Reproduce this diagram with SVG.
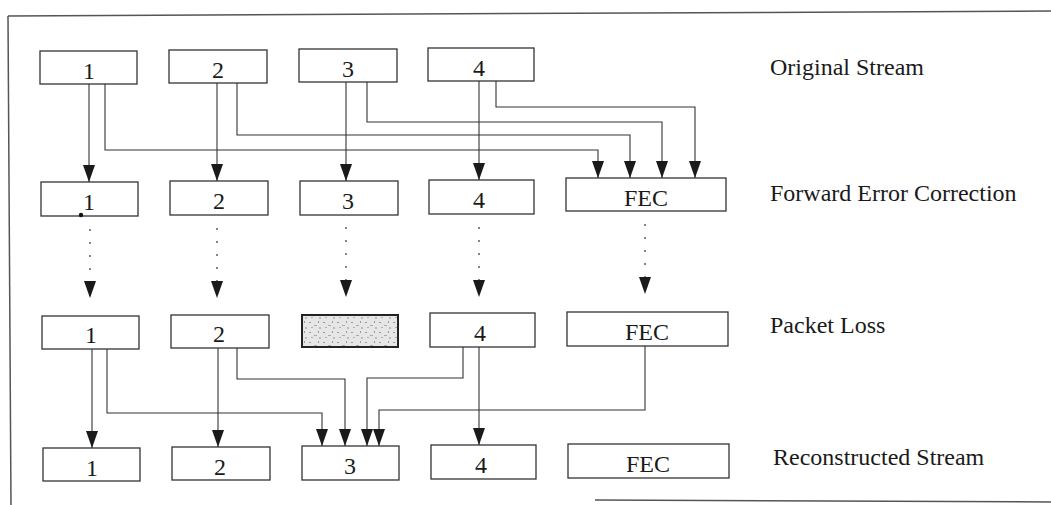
<svg xmlns="http://www.w3.org/2000/svg" width="1051" height="505" viewBox="0 0 1051 505">
<style>
.box{fill:#fff;stroke:#333;stroke-width:1.3}
.lost{stroke:#222;stroke-width:2}
.t{font-family:"Liberation Serif","Times New Roman",serif;font-size:24px;fill:#1a1a1a;text-anchor:middle}
.lbl{font-family:"Liberation Serif","Times New Roman",serif;font-size:24px;fill:#1a1a1a}
.c{fill:none;stroke:#333;stroke-width:1.1}
.d{fill:none;stroke:#444;stroke-width:1.3;stroke-dasharray:2 11}
.frame{fill:none;stroke:#555;stroke-width:1.5}
</style>
<defs>
<marker id="ah" markerWidth="17" markerHeight="12" refX="17" refY="6" orient="auto" markerUnits="userSpaceOnUse" viewBox="0 0 17 12">
<path d="M0,0 L17,6 L0,12 Z" fill="#1a1a1a"/>
</marker>
<pattern id="speck" width="14" height="10" patternUnits="userSpaceOnUse">
<rect width="14" height="10" fill="#e6e6e6"/>
<rect x="1" y="2" width="2" height="1" fill="#999"/>
<rect x="6" y="5" width="3" height="1" fill="#aaa"/>
<rect x="10" y="1" width="1" height="2" fill="#999"/>
<rect x="3" y="7" width="2" height="1" fill="#b0b0b0"/>
<rect x="11" y="7" width="2" height="2" fill="#bbb"/>
</pattern>
</defs>
<g id="frame">
<line class="frame" x1="8" y1="16" x2="1051" y2="11"/>
<line class="frame" x1="8" y1="16" x2="11" y2="505"/>
<line class="frame" x1="595" y1="500" x2="1051" y2="502" stroke="#999"/>
</g>
<g id="connectors">
<line class="c" x1="89" y1="84" x2="89" y2="182" marker-end="url(#ah)"/>
<line class="c" x1="217" y1="83" x2="217" y2="181" marker-end="url(#ah)"/>
<line class="c" x1="346" y1="82" x2="346" y2="181" marker-end="url(#ah)"/>
<line class="c" x1="479" y1="81" x2="479" y2="180" marker-end="url(#ah)"/>
<polyline class="c" points="105,84 105,150 598,150 598,178" marker-end="url(#ah)"/>
<polyline class="c" points="237,83 237,135 630,135 630,178" marker-end="url(#ah)"/>
<polyline class="c" points="367,82 367,122 662,122 662,178" marker-end="url(#ah)"/>
<polyline class="c" points="496,81 496,107 695,107 695,178" marker-end="url(#ah)"/>
<line class="d" x1="90" y1="229" x2="90" y2="298" marker-end="url(#ah)"/>
<line class="d" x1="217" y1="228" x2="217" y2="298" marker-end="url(#ah)"/>
<line class="d" x1="346" y1="227" x2="346" y2="297" marker-end="url(#ah)"/>
<line class="d" x1="479" y1="227" x2="479" y2="297" marker-end="url(#ah)"/>
<line class="d" x1="645" y1="224" x2="645" y2="294" marker-end="url(#ah)"/>
<line class="c" x1="92" y1="349" x2="92" y2="448" marker-end="url(#ah)"/>
<line class="c" x1="218" y1="348" x2="218" y2="447" marker-end="url(#ah)"/>
<line class="c" x1="479" y1="347" x2="479" y2="445" marker-end="url(#ah)"/>
<polyline class="c" points="107,349 107,413 322,413 322,446" marker-end="url(#ah)"/>
<polyline class="c" points="237,348 237,379 345,379 345,446" marker-end="url(#ah)"/>
<polyline class="c" points="463,347 463,378 367,378 367,446" marker-end="url(#ah)"/>
<polyline class="c" points="645,346 645,410 379,410 379,446" marker-end="url(#ah)"/>
</g>
<g id="orig1"><rect class="box" x="40" y="51" width="97" height="33"/><text class="t" x="89" y="79">1</text></g>
<g id="orig2"><rect class="box" x="169" y="50" width="98" height="33"/><text class="t" x="218" y="78">2</text></g>
<g id="orig3"><rect class="box" x="299" y="49" width="98" height="33"/><text class="t" x="348" y="77">3</text></g>
<g id="orig4"><rect class="box" x="428" y="48" width="106" height="33"/><text class="t" x="479" y="76">4</text></g>
<g id="fec1"><rect class="box" x="41" y="182" width="97" height="34"/><text class="t" x="89" y="210">1</text><circle cx="81" cy="215" r="2.2" fill="#111"/></g>
<g id="fec2"><rect class="box" x="170" y="181" width="98" height="34"/><text class="t" x="219" y="209">2</text></g>
<g id="fec3"><rect class="box" x="300" y="181" width="98" height="34"/><text class="t" x="348" y="209">3</text></g>
<g id="fec4"><rect class="box" x="429" y="180" width="105" height="34"/><text class="t" x="479" y="208">4</text></g>
<g id="fecF"><rect class="box" x="566" y="178" width="160" height="33"/><text class="t" x="646" y="206">FEC</text></g>
<g id="loss1"><rect class="box" x="42" y="316" width="97" height="33"/><text class="t" x="91" y="343">1</text></g>
<g id="loss2"><rect class="box" x="171" y="315" width="98" height="33"/><text class="t" x="219" y="342">2</text></g>
<g id="loss3"><rect class="lost" x="302" y="315" width="96" height="32" style="fill:url(#speck)"/></g>
<g id="loss4"><rect class="box" x="430" y="313" width="105" height="34"/><text class="t" x="480" y="341">4</text></g>
<g id="lossF"><rect class="box" x="567" y="312" width="161" height="34"/><text class="t" x="647" y="340">FEC</text></g>
<g id="rec1"><rect class="box" x="43" y="448" width="97" height="33"/><text class="t" x="92" y="476">1</text></g>
<g id="rec2"><rect class="box" x="172" y="447" width="98" height="33"/><text class="t" x="220" y="475">2</text></g>
<g id="rec3"><rect class="box" x="302" y="446" width="97" height="34"/><text class="t" x="350" y="474">3</text></g>
<g id="rec4"><rect class="box" x="431" y="445" width="105" height="34"/><text class="t" x="481" y="473">4</text></g>
<g id="recF"><rect class="box" x="568" y="444" width="161" height="34"/><text class="t" x="648" y="472">FEC</text></g>
<g id="labels">
<text class="lbl" x="770" y="75">Original Stream</text>
<text class="lbl" x="770" y="201">Forward Error Correction</text>
<text class="lbl" x="770" y="333">Packet Loss</text>
<text class="lbl" x="773" y="465">Reconstructed Stream</text>
</g>
</svg>
